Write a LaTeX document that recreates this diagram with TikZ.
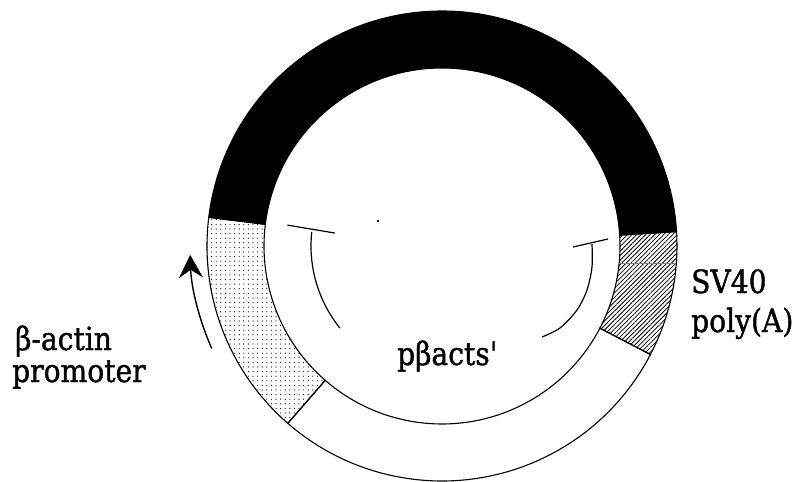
\documentclass[tikz,border=0pt]{standalone}
\usepackage{fontspec}
\newfontfamily\lblfont{DejaVu Serif}[FakeBold=1.2]
\usetikzlibrary{patterns.meta,arrows.meta}
\begin{document}
\begin{tikzpicture}[x=1pt,y=1pt,
  seg/.style={draw=black,line width=1.1pt},
  stemline/.style={draw=black,line width=1.2pt},
  lbl/.style={font=\lblfont\fontsize{32}{32}\selectfont, inner sep=0pt, anchor=base west, xscale=0.88},
  turn/.style={draw=black,line width=1.4pt,-{Stealth[length=23pt,width=24pt,inset=8pt]}}
  ]
\useasboundingbox (-442,-236) rectangle (367,246);
\def\Ro{235}\def\Ri{178}
% white backbone segment
\path[seg,fill=white] (229:\Ro) arc[start angle=229,end angle=332.5,radius=\Ro] -- (332.5:\Ri) arc[start angle=332.5,end angle=229,radius=\Ri] -- cycle;
% stippled beta-actin promoter
\path[seg,pattern={Dots[radius=0.6pt,distance=4.6pt]}] (173:\Ro) arc[start angle=173,end angle=229,radius=\Ro] -- (229:\Ri) arc[start angle=229,end angle=173,radius=\Ri] -- cycle;
% hatched SV40 poly(A)
\path[seg,pattern={Lines[angle=45,distance=3.2pt,line width=0.8pt]}] (332.5:\Ro) arc[start angle=332.5,end angle=363.5,radius=\Ro] -- (363.5:\Ri) arc[start angle=363.5,end angle=332.5,radius=\Ri] -- cycle;
\draw[gray,line width=0.5pt] (177.2,-17) -- (234.4,-17);
% black segment
\path[seg,fill=black] (3.5:\Ro) arc[start angle=3.5,end angle=173,radius=\Ro] -- (173:\Ri) arc[start angle=173,end angle=3.5,radius=\Ri] -- cycle;
% speck
\fill (-64,25) circle (1.3);
% left T
\coordinate (lt1) at (172.3:156);
\coordinate (lt2) at (173.1:108);
\coordinate (ls) at (173.8:131);
\draw[stemline] (lt1) -- (lt2);
\draw[stemline] (ls) arc[start angle=173.8,end angle=218.8,radius=131];
% right T
\coordinate (rt1) at (131,-1);
\coordinate (rt2) at (166,7);
\draw[stemline] (rt1) -- (rt2);
\draw[stemline] plot[smooth] coordinates {(150,2) (150,-21) (145,-44) (135,-64) (118,-82) (100,-91)};
% promoter arrow
\coordinate (arrS) at (204:252);
\draw[turn] (arrS) arc[start angle=204,end angle=182,radius=252];
% labels
\node[lbl] (beta) at (-427,-104) {β-actin};
\node[lbl] (prom) at (-430,-136) {promoter};
\node[lbl] (sv) at (249,-47) {SV40};
\node[lbl] (poly) at (249,-86) {poly(A)};
\node[lbl] (pname) at (-45,-119) {pβacts'};
\end{tikzpicture}
\end{document}
